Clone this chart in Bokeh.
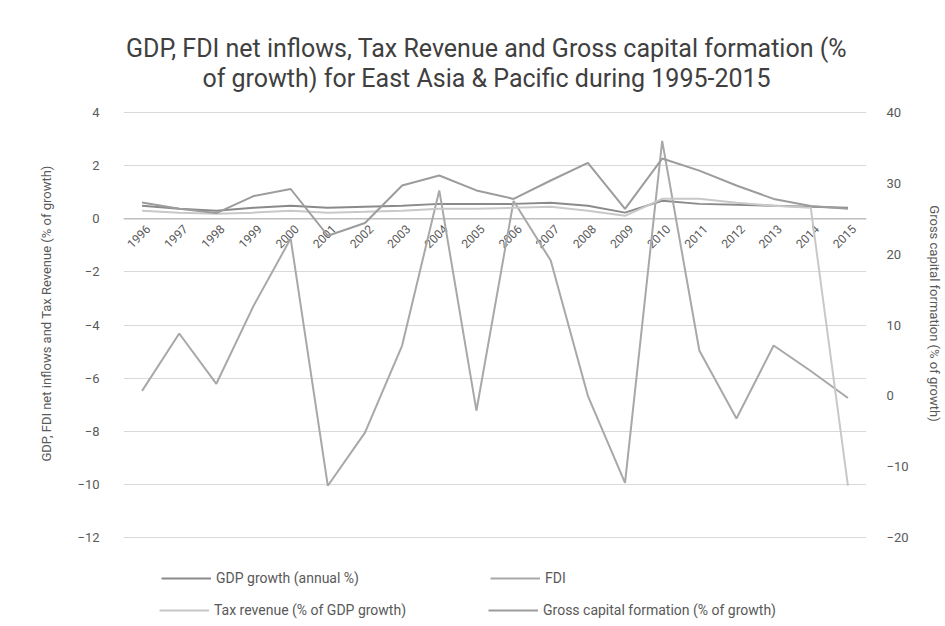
import math
from bokeh.plotting import figure
from bokeh.models import (FactorRange, Range1d, LinearAxis, Legend, LegendItem,
                          Label, FixedTicker, Span)
from bokeh.core.properties import value
from bokeh.embed import file_html
from bokeh.resources import INLINE

# ---------------- data ----------------
years = [str(y) for y in range(1996, 2016)]
label_y = [0] * len(years)

gdp_growth = [0.49, 0.38, 0.30, 0.41, 0.49, 0.41, 0.45, 0.49, 0.56, 0.56,
              0.56, 0.60, 0.49, 0.23, 0.68, 0.56, 0.53, 0.49, 0.45, 0.41]
fdi = [0.7, 8.8, 1.7, 12.7, 22.2, -12.7, -5.2, 7.1, 29.0, -2.1,
       27.5, 19.1, 0.0, -12.3, 36.0, 6.4, -3.2, 7.1, 3.5, -0.3]
tax_revenue = [0.30, 0.23, 0.19, 0.23, 0.30, 0.23, 0.26, 0.30, 0.38, 0.38,
               0.41, 0.45, 0.30, 0.11, 0.75, 0.75, 0.60, 0.49, 0.41, -10.05]
gross_capital = [27.3, 26.4, 25.8, 28.2, 29.2, 22.6, 24.4, 29.7, 31.1, 29.0,
                 27.8, 30.4, 32.9, 26.4, 33.5, 31.8, 29.7, 27.8, 26.8, 26.4]

left_ticks = [4, 2, 0, -2, -4, -6, -8, -10, -12]
right_ticks = [40, 30, 20, 10, 0, -10, -20]

series_labels = ["GDP growth (annual %)", "FDI",
                 "Tax revenue (% of GDP growth)",
                 "Gross capital formation (% of growth)"]

title_line1 = "GDP, FDI net inflows, Tax Revenue and Gross capital formation (%"
title_line2 = "of growth) for East Asia & Pacific during 1995-2015"
left_title = "GDP, FDI net inflows and Tax Revenue (% of growth)"
right_title = "Gross capital formation (% of growth)"

FONT = "Roboto"
TXT = "#595959"

# ---------------- layout constants (pixels) ----------------
W, H = 945, 626
PLOT_TOP, PLOT_BOTTOM = 112, 537      # pixel rows of the top/bottom ticks
FRAME_L, FRAME_R = 123, 866


def extended(lo, hi):
    per_px = (hi - lo) / (PLOT_BOTTOM - PLOT_TOP)
    return lo - (H - PLOT_BOTTOM) * per_px, hi + PLOT_TOP * per_px


l_lo, l_hi = extended(min(left_ticks), max(left_ticks))
r_lo, r_hi = extended(min(right_ticks), max(right_ticks))

# ---------------- figure ----------------
p = figure(width=W, height=H, x_range=FactorRange(*years),
           y_range=Range1d(l_lo, l_hi), output_backend="svg",
           toolbar_location=None, min_border_left=FRAME_L,
           min_border_right=W - FRAME_R, min_border_top=0,
           min_border_bottom=0)
p.extra_y_ranges = {"right": Range1d(r_lo, r_hi)}
p.outline_line_color = None
p.background_fill_color = "white"
p.border_fill_color = "white"
p.styles = {"outline": "1px solid #d9d9d9", "outline-offset": "-9px"}

# grid
p.xgrid.grid_line_color = None
p.ygrid.grid_line_color = "#d9d9d9"
p.ygrid.ticker = FixedTicker(ticks=left_ticks)

# left axis
p.yaxis.ticker = FixedTicker(ticks=left_ticks)
p.yaxis.axis_line_color = None
p.yaxis.major_tick_line_color = None
p.yaxis.minor_tick_line_color = None
p.yaxis.major_label_text_font_size = "13px"
p.yaxis.major_label_text_font = FONT
p.yaxis.major_label_text_color = TXT
p.yaxis.major_label_standoff = 18
p.yaxis.axis_label = left_title
p.yaxis.axis_label_text_font_size = "13px"
p.yaxis.axis_label_text_font = FONT
p.yaxis.axis_label_text_font_style = "normal"
p.yaxis.axis_label_text_color = TXT
p.yaxis.axis_label_standoff = 20

# right axis
ra = LinearAxis(y_range_name="right", ticker=FixedTicker(ticks=right_ticks))
ra.axis_line_color = None
ra.major_tick_line_color = None
ra.minor_tick_line_color = None
ra.major_label_text_font_size = "13px"
ra.major_label_text_font = FONT
ra.major_label_text_color = TXT
ra.major_label_standoff = 14
ra.axis_label = right_title
ra.axis_label_text_font_size = "13px"
ra.axis_label_text_font = FONT
ra.axis_label_text_font_style = "normal"
ra.axis_label_text_color = TXT
ra.axis_label_standoff = 15
p.add_layout(ra, "right")

# category axis drawn at zero: axis line + rotated year labels
p.xaxis.visible = False
p.add_layout(Span(location=0, dimension="width", line_color="#bfbfbf",
                  line_width=1.5, level="underlay"))
p.text(x=years, y=label_y, text=years, angle=math.pi / 4,
       text_align="right", text_baseline="middle", x_offset=6, y_offset=8,
       text_font=value(FONT), text_font_size="12px", text_color=TXT)

# title (two centred lines)
cx = 486 - FRAME_L
for txt, row in ((title_line1, 48), (title_line2, 78)):
    p.add_layout(Label(x=cx, y=H - row, x_units="screen", y_units="screen",
                       text=txt, text_align="center", text_baseline="middle",
                       text_font=FONT, text_font_size="25px",
                       text_color="#404040"))

# ---------------- series ----------------
r1 = p.line(years, gdp_growth, line_color="#8a8a8a", line_width=2)
r2 = p.line(years, fdi, line_color="#a8a8a8", line_width=2, y_range_name="right")
r3 = p.line(years, tax_revenue, line_color="#c8c8c8", line_width=2)
r4 = p.line(years, gross_capital, line_color="#9c9c9c", line_width=2,
            y_range_name="right")

common = dict(orientation="horizontal", glyph_width=50, glyph_height=20,
              label_height=20, label_width=262, spacing=12, padding=5,
              margin=0, label_standoff=5, label_text_font_size="14px",
              label_text_font=FONT, label_text_color=TXT,
              border_line_color=None, background_fill_alpha=0)
leg1 = Legend(items=[LegendItem(label=series_labels[0], renderers=[r1]),
                     LegendItem(label=series_labels[1], renderers=[r2])],
              location=(38, 38), **common)
leg2 = Legend(items=[LegendItem(label=series_labels[2], renderers=[r3]),
                     LegendItem(label=series_labels[3], renderers=[r4])],
              location=(36, 6), **common)
p.add_layout(leg1, "center")
p.add_layout(leg2, "center")

open("out.html", "w").write(file_html(p, INLINE))
